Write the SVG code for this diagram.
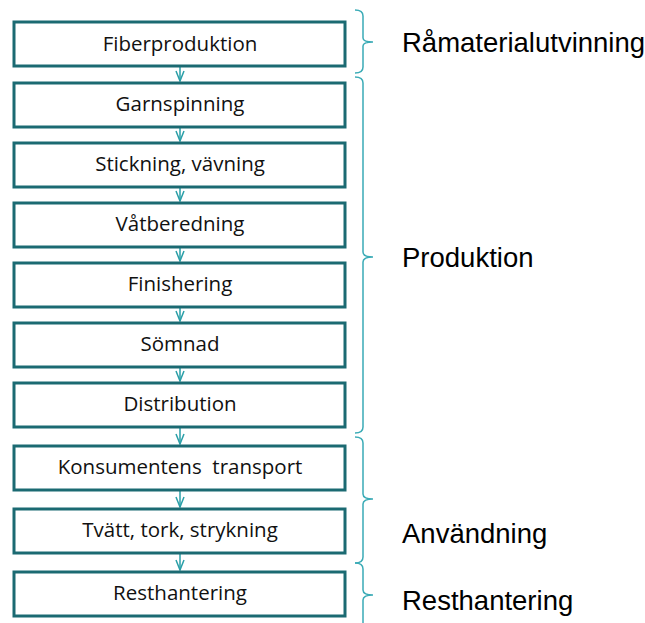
<svg xmlns="http://www.w3.org/2000/svg" width="645" height="623" viewBox="0 0 645 623">
<style>
.box{fill:#fff;stroke:#1b6a72;stroke-width:3}
.bt{font-family:"Open Sans","Noto Sans",sans-serif;font-size:20.5px;fill:#111;text-anchor:middle}
.lbl{font-family:"Liberation Sans",Arial,sans-serif;font-size:27.5px;fill:#000}
.con{stroke:#2a9fa8;stroke-width:1.5;fill:none}
.brace{stroke:#3aabb6;stroke-width:1.5;fill:none}
</style>
<defs>
<marker id="arr" viewBox="0 0 12 10" refX="11" refY="5" markerWidth="12" markerHeight="10" markerUnits="userSpaceOnUse" orient="auto">
<path d="M1,1 L11,5 L1,9" fill="none" stroke="#2a9fa8" stroke-width="1.5"/>
</marker>
</defs>
<g id="connectors">
<line class="con" x1="180" y1="67" x2="180" y2="81" marker-end="url(#arr)"/>
<line class="con" x1="180" y1="128" x2="180" y2="141" marker-end="url(#arr)"/>
<line class="con" x1="180" y1="188" x2="180" y2="201" marker-end="url(#arr)"/>
<line class="con" x1="180" y1="248" x2="180" y2="261" marker-end="url(#arr)"/>
<line class="con" x1="180" y1="308" x2="180" y2="321" marker-end="url(#arr)"/>
<line class="con" x1="180" y1="368" x2="180" y2="381" marker-end="url(#arr)"/>
<line class="con" x1="180" y1="428" x2="180" y2="444" marker-end="url(#arr)"/>
<line class="con" x1="180" y1="491" x2="180" y2="507" marker-end="url(#arr)"/>
<line class="con" x1="180" y1="554" x2="180" y2="570" marker-end="url(#arr)"/>
</g>
<g id="n1"><rect class="box" x="14" y="22" width="331" height="44"/><text class="bt" x="180" y="51">Fiberproduktion</text></g>
<g id="n2"><rect class="box" x="14" y="83" width="331" height="44"/><text class="bt" x="180" y="111">Garnspinning</text></g>
<g id="n3"><rect class="box" x="14" y="143" width="331" height="44"/><text class="bt" x="180" y="171">Stickning, vävning</text></g>
<g id="n4"><rect class="box" x="14" y="203" width="331" height="44"/><text class="bt" x="180" y="231">Våtberedning</text></g>
<g id="n5"><rect class="box" x="14" y="263" width="331" height="44"/><text class="bt" x="180" y="291">Finishering</text></g>
<g id="n6"><rect class="box" x="14" y="323" width="331" height="44"/><text class="bt" x="180" y="351">Sömnad</text></g>
<g id="n7"><rect class="box" x="14" y="383" width="331" height="44"/><text class="bt" x="180" y="411">Distribution</text></g>
<g id="n8"><rect class="box" x="14" y="446" width="331" height="44"/><text class="bt" x="180" y="474" xml:space="preserve">Konsumentens  transport</text></g>
<g id="n9"><rect class="box" x="14" y="509" width="331" height="44"/><text class="bt" x="180" y="537">Tvätt, tork, strykning</text></g>
<g id="n10"><rect class="box" x="14" y="572" width="331" height="44"/><text class="bt" x="180" y="600">Resthantering</text></g>
<g id="braces">
<path class="brace" d="M355,10 Q363,10 363,16 L363,38 Q363,42 373,42 Q363,42 363,46 L363,67 Q363,73 355,73"/>
<path class="brace" d="M355,77 Q363,77 363,83 L363,252 Q363,257 373,257 Q363,257 363,262 L363,427 Q363,433 355,433"/>
<path class="brace" d="M355,437 Q363,437 363,443 L363,494 Q363,499 373,499 Q363,499 363,504 L363,557 Q363,563 355,563"/>
<path class="brace" d="M355,563 Q363,563 363,569 L363,590 Q363,595 373,595 Q363,595 363,600 L363,623"/>
</g>
<g id="labels">
<text class="lbl" x="402" y="52">Råmaterialutvinning</text>
<text class="lbl" x="402" y="267">Produktion</text>
<text class="lbl" x="402" y="543">Användning</text>
<text class="lbl" x="402" y="610">Resthantering</text>
</g>
</svg>
